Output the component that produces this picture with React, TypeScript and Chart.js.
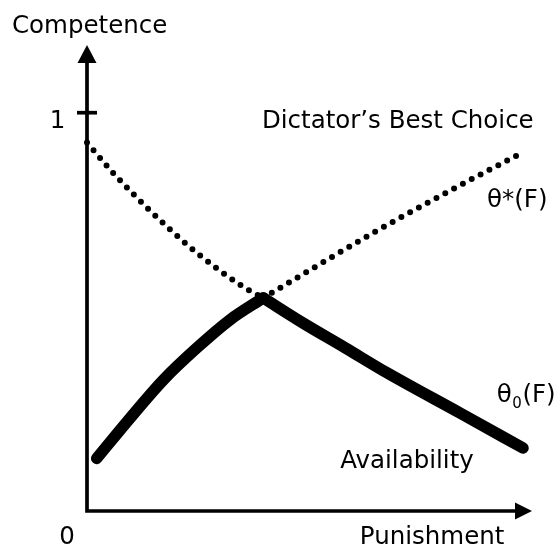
import React, { useEffect, useRef } from "react";
import { Chart, registerables } from "chart.js";

Chart.register(...registerables);

const FONT_FAMILY = '"DejaVu Sans", Verdana, sans-serif';
const FONT_SIZE = 24.5;

// θ0(F) — Availability (solid curve): Punishment (x) vs Competence (y)
const availabilityX = [2.18, 9.66, 17.15, 24.65, 32.13, 39.6, 48.54, 57.98, 67.42, 83.82, 97.98];
const availabilityY = [0.132, 0.233, 0.329, 0.409, 0.48, 0.535, 0.472, 0.41, 0.347, 0.246, 0.158];
const availabilityPeak = 5;

// θ*(F) — Dictator's Best Choice (dotted curve)
const bestChoiceX = [0, 5.62, 10.11, 17.98, 24.72, 35.5, 39.6, 64.27, 85.39, 96.85];
const bestChoiceY = [0.925, 0.852, 0.799, 0.714, 0.648, 0.56, 0.535, 0.698, 0.827, 0.894];
const bestChoicePeak = 6;

const xRange = [0, 100];
const yRange = [0, 1.17];
const yTickValues = [1];
const yTickLabels = ["1"];
const originLabel = "0";
const xTitle = "Punishment";
const yTitle = "Competence";

type Note = { text: string; sub?: string; after?: string; x: number; y: number };
const notes: Note[] = [
  { text: "Dictator’s Best Choice", x: 39.3, y: 0.962 },
  { text: "θ*(F)", x: 89.9, y: 0.764 },
  { text: "θ", sub: "0", after: "(F)", x: 92.1, y: 0.274 },
  { text: "Availability", x: 56.9, y: 0.108 },
];

function toPoints(xs: number[], ys: number[], from: number, to: number) {
  const pts: { x: number; y: number }[] = [];
  for (let i = from; i <= to; i++) pts.push({ x: xs[i], y: ys[i] });
  return pts;
}

const sketchPlugin = {
  id: "sketchAxes",
  afterDatasetsDraw(chart: any) {
    const { ctx } = chart;
    const xs = chart.scales.x;
    const ys = chart.scales.y;
    const px = (v: number) => xs.getPixelForValue(v);
    const py = (v: number) => ys.getPixelForValue(v);
    const ox = px(0);
    const oy = py(0);
    const top = py(yRange[1]);
    const right = px(xRange[1]);
    ctx.save();
    ctx.strokeStyle = "#000";
    ctx.fillStyle = "#000";
    ctx.lineWidth = 3.7;
    ctx.lineJoin = "miter";
    ctx.lineCap = "butt";
    // axes
    ctx.beginPath();
    ctx.moveTo(ox, top + 16);
    ctx.lineTo(ox, oy);
    ctx.lineTo(right - 15, oy);
    ctx.stroke();
    // arrowheads
    ctx.beginPath();
    ctx.moveTo(ox, top);
    ctx.lineTo(ox - 9.5, top + 18);
    ctx.lineTo(ox + 9.5, top + 18);
    ctx.closePath();
    ctx.fill();
    ctx.beginPath();
    ctx.moveTo(right, oy);
    ctx.lineTo(right - 17, oy - 8.5);
    ctx.lineTo(right - 17, oy + 8.5);
    ctx.closePath();
    ctx.fill();
    // y ticks
    ctx.font = `${FONT_SIZE}px ${FONT_FAMILY}`;
    ctx.textBaseline = "alphabetic";
    yTickValues.forEach((v, i) => {
      const yy = py(v);
      ctx.beginPath();
      ctx.moveTo(ox - 10, yy);
      ctx.lineTo(ox + 10, yy);
      ctx.stroke();
      ctx.textAlign = "center";
      ctx.fillText(yTickLabels[i], ox - 29.5, yy + 15);
    });
    // origin label
    ctx.textAlign = "center";
    ctx.fillText(originLabel, ox - 20, oy + 33);
    // axis titles
    ctx.textAlign = "left";
    ctx.fillText(yTitle, ox - 75, top - 12);
    ctx.fillText(xTitle, px(61.3), oy + 33);
    // notes
    notes.forEach((n) => {
      let x = px(n.x);
      const y = py(n.y);
      ctx.font = `${FONT_SIZE}px ${FONT_FAMILY}`;
      ctx.fillText(n.text, x, y);
      x += ctx.measureText(n.text).width;
      if (n.sub) {
        ctx.font = `${15}px ${FONT_FAMILY}`;
        ctx.fillText(n.sub, x + 0.5, y + 6);
        x += ctx.measureText(n.sub).width + 1;
        ctx.font = `${FONT_SIZE}px ${FONT_FAMILY}`;
      }
      if (n.after) ctx.fillText(n.after, x, y);
    });
    ctx.restore();
  },
};

export default function App() {
  const ref = useRef<HTMLCanvasElement | null>(null);
  useEffect(() => {
    document.body.style.margin = "0";
    const canvas = ref.current!;
    const solid = {
      borderColor: "#000",
      borderWidth: 11.5,
      borderCapStyle: "round" as const,
      borderJoinStyle: "round" as const,
      pointRadius: 0,
      cubicInterpolationMode: "monotone" as const,
      fill: false,
      clip: false as const,
    };
    const dotted = {
      borderColor: "#000",
      borderWidth: 6,
      borderDash: [0, 10],
      borderCapStyle: "round" as const,
      pointRadius: 0,
      cubicInterpolationMode: "monotone" as const,
      fill: false,
      clip: false as const,
    };
    const chart = new Chart(canvas, {
      type: "line",
      data: {
        datasets: [
          { ...dotted, label: "θ*(F) left", data: toPoints(bestChoiceX, bestChoiceY, 0, bestChoicePeak) },
          { ...dotted, label: "θ*(F) right", data: toPoints(bestChoiceX, bestChoiceY, bestChoicePeak, bestChoiceX.length - 1) },
          { ...solid, label: "θ0(F) left", data: toPoints(availabilityX, availabilityY, 0, availabilityPeak) },
          { ...solid, label: "θ0(F) right", data: toPoints(availabilityX, availabilityY, availabilityPeak, availabilityX.length - 1) },
        ],
      },
      options: {
        animation: false,
        responsive: false,
        devicePixelRatio: 1,
        layout: { padding: { left: 87, right: 28, top: 45, bottom: 37 } },
        plugins: { legend: { display: false }, tooltip: { enabled: false } },
        scales: {
          x: { type: "linear", min: xRange[0], max: xRange[1], display: false },
          y: { type: "linear", min: yRange[0], max: yRange[1], display: false },
        },
      },
      plugins: [sketchPlugin],
    });
    return () => chart.destroy();
  }, []);
  return (
    <div style={{ width: 560, height: 548, background: "#fff" }}>
      <canvas ref={ref} width={560} height={548} style={{ display: "block" }} />
    </div>
  );
}
